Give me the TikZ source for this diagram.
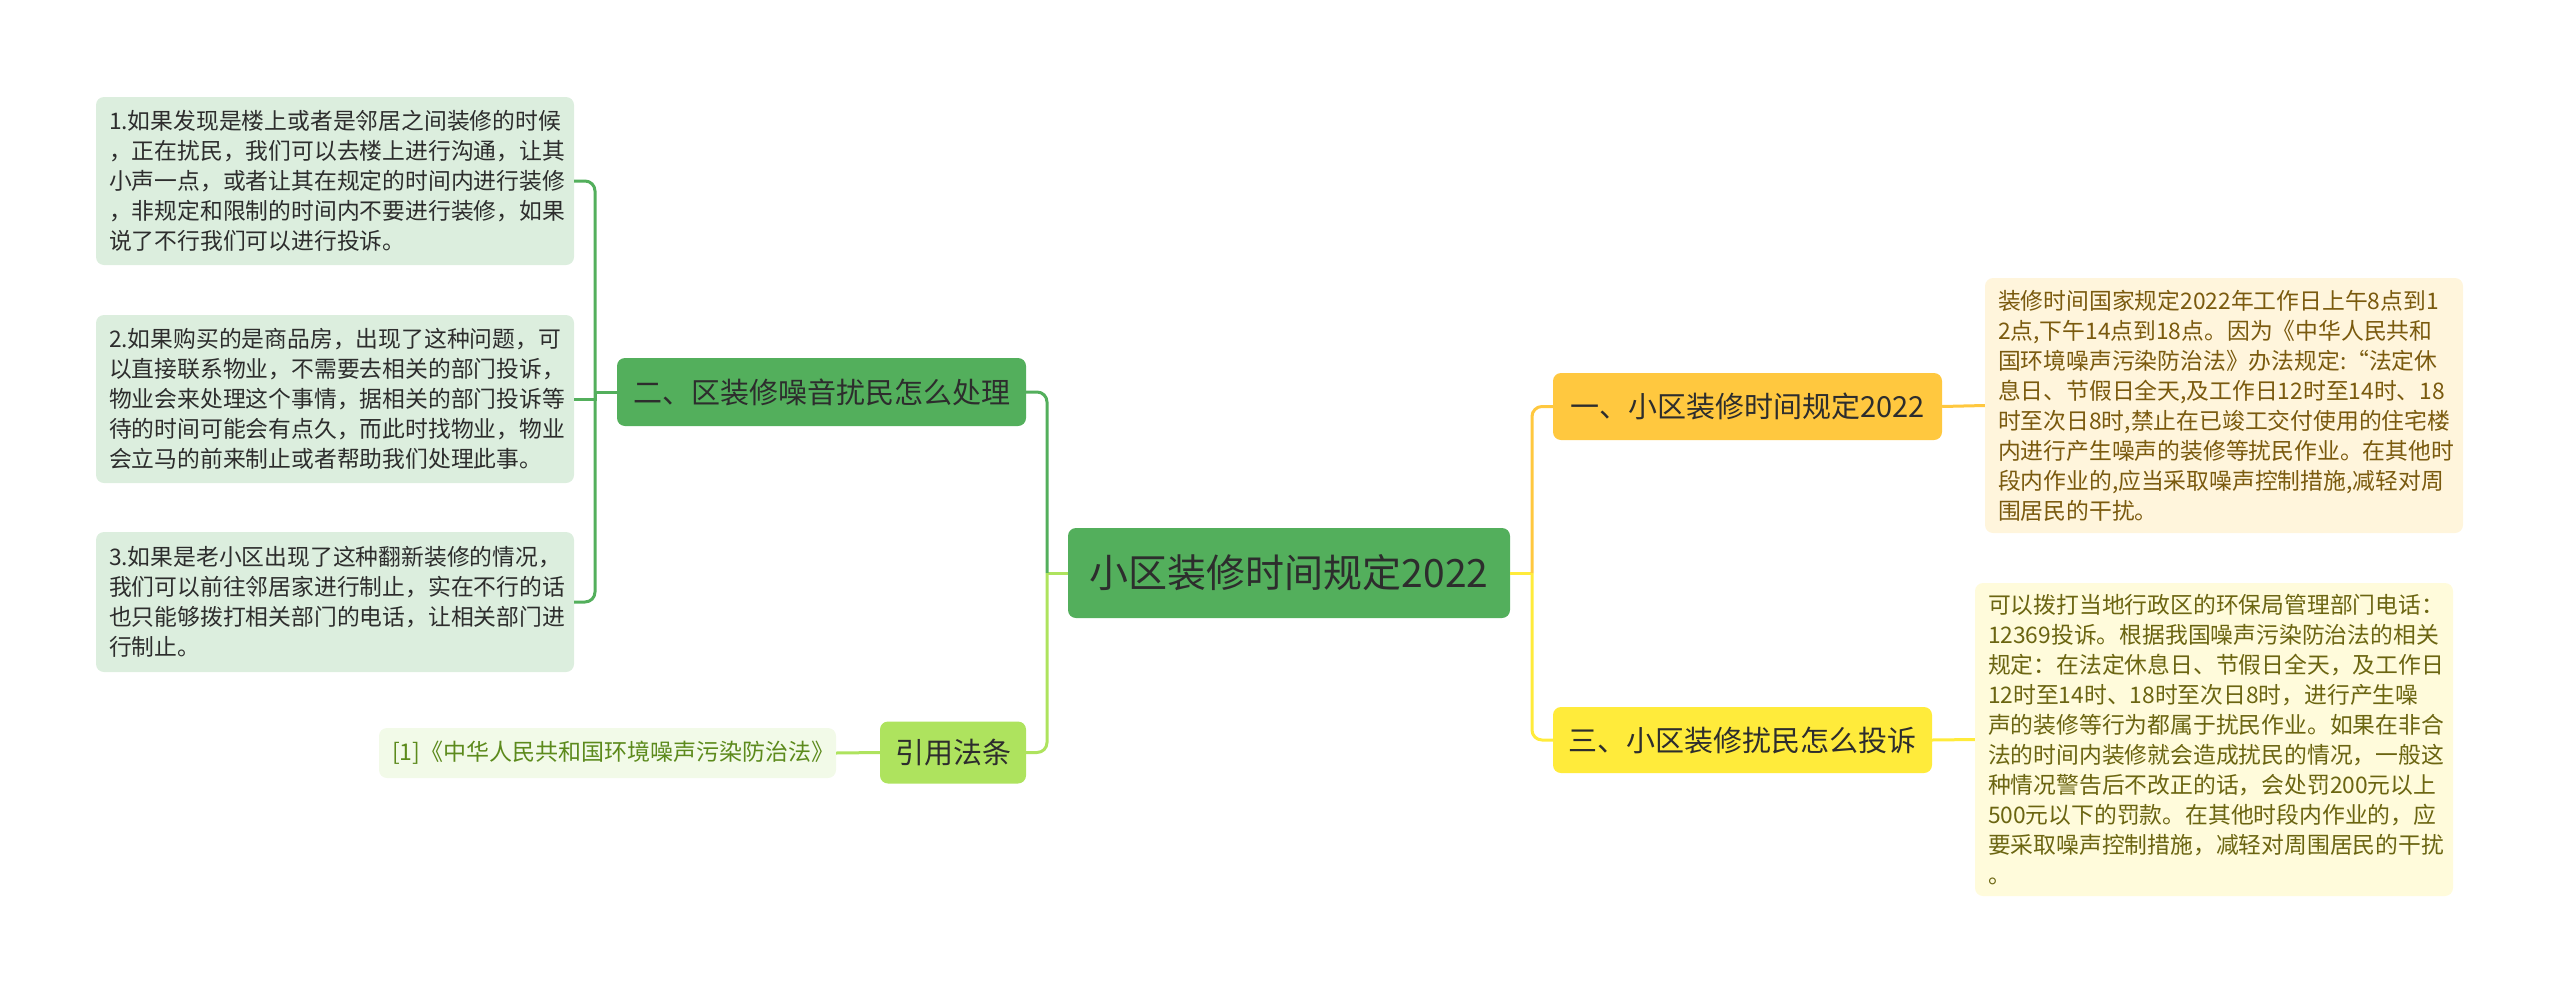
\documentclass[tikz,border=0pt]{standalone}
\usepackage{fontspec}
\setmainfont{Noto Sans CJK SC}
\usepackage{xcolor}
\usetikzlibrary{positioning, calc}
\definecolor{rootgreen}{HTML}{53AF5C}
\definecolor{limegreen}{HTML}{AEE35E}
\definecolor{leafgreen}{HTML}{DCEEDE}
\definecolor{reffill}{HTML}{F2FAE8}
\definecolor{reftext}{HTML}{5C8A1C}
\definecolor{orangebr}{HTML}{FFC83F}
\definecolor{yellowbr}{HTML}{FFEB3B}
\definecolor{creamfill}{HTML}{FFF5DC}
\definecolor{creamtext}{HTML}{7A5A0E}
\definecolor{paleyellow}{HTML}{FFFBDB}
\definecolor{olivetext}{HTML}{6B6511}
\definecolor{darktext}{HTML}{2D2D2D}
\tikzset{box/.style={rounded corners=8pt, inner sep=0pt},
         topic/.style={box, text=darktext, align=center, font=\fontsize{29}{34}\selectfont},
         leaf/.style={box, align=left, inner xsep=13pt, font=\fontsize{22.8}{30}\selectfont},
         link/.style={line width=3pt, rounded corners=10pt}
        }

\begin{document}
\begin{tikzpicture}[x=1pt, y=-1pt]
\useasboundingbox (0,0) rectangle (2560,996);
\node[box, fill=rootgreen, text=darktext, minimum width=442pt, minimum height=90pt, font=\fontsize{39}{44}\selectfont] (root) at (1289,573){小区装修时间规定2022};
\node[topic, fill=rootgreen, minimum width=409pt, minimum height=68pt] (er) at (821.5,392){二、区装修噪音扰民怎么处理};
\node[topic, fill=limegreen, minimum width=146pt, minimum height=62pt] (yinyong) at (953,752.5){引用法条};
\node[topic, fill=orangebr, minimum width=389pt, minimum height=67pt] (yi) at (1747.5,406.5){一、小区装修时间规定2022};
\node[topic, fill=yellowbr, minimum width=379pt, minimum height=66pt] (san) at (1742.5,740){三、小区装修扰民怎么投诉};

\node[leaf, fill=leafgreen, text=darktext, text width=452pt, minimum height=168pt] (way1) at (335,181){1.如果发现是楼上或者是邻居之间装修的时候\\，正在扰民，我们可以去楼上进行沟通，让其\\小声一点，或者让其在规定的时间内进行装修\\，非规定和限制的时间内不要进行装修，如果\\说了不行我们可以进行投诉。};
\node[leaf, fill=leafgreen, text=darktext, text width=452pt, minimum height=168pt] (way2) at (335,399){2.如果购买的是商品房，出现了这种问题，可\\以直接联系物业，不需要去相关的部门投诉，\\物业会来处理这个事情，据相关的部门投诉等\\待的时间可能会有点久，而此时找物业，物业\\会立马的前来制止或者帮助我们处理此事。};
\node[leaf, fill=leafgreen, text=darktext, text width=452pt, minimum height=140pt] (way3) at (335,602){3.如果是老小区出现了这种翻新装修的情况，\\我们可以前往邻居家进行制止，实在不行的话\\也只能够拨打相关部门的电话，让相关部门进\\行制止。};
\node[leaf, fill=reffill, text=reftext, text width=431pt, minimum height=50pt, font=\fontsize{23}{28}\selectfont] (law) at (607.5,753){[1]《中华人民共和国环境噪声污染防治法》};

\node[leaf, fill=creamfill, text=creamtext, text width=452pt, minimum height=255pt] (rule) at (2224,405.5){装修时间国家规定2022年工作日上午8点到1\\2点,下午14点到18点。因为《中华人民共和\\国环境噪声污染防治法》办法规定:“法定休\\息日、节假日全天,及工作日12时至14时、18\\时至次日8时,禁止在已竣工交付使用的住宅楼\\内进行产生噪声的装修等扰民作业。在其他时\\段内作业的,应当采取噪声控制措施,减轻对周\\围居民的干扰。};
\node[leaf, fill=paleyellow, text=olivetext, text width=452pt, minimum height=313pt] (complain) at (2214,739.5){可以拨打当地行政区的环保局管理部门电话：\\12369投诉。根据我国噪声污染防治法的相关\\规定：在法定休息日、节假日全天，及工作日\\12时至14时、18时至次日8时，进行产生噪\\声的装修等行为都属于扰民作业。如果在非合\\法的时间内装修就会造成扰民的情况，一般这\\种情况警告后不改正的话，会处罚200元以上\\500元以下的罚款。在其他时段内作业的，应\\要采取噪声控制措施，减轻对周围居民的干扰\\。};

\coordinate (jleft) at (1047,573);
\coordinate (jright) at (1532,573);
\coordinate (jer) at (595,392);

\draw[link, limegreen] (root.west) -- (jleft);
\draw[link, rootgreen] (jleft) |- (er.east);
\draw[link, limegreen] (jleft) |- (yinyong.east);
\draw[link, yellowbr] (root.east) -- (jright);
\draw[link, orangebr] (jright) |- (yi.west);
\draw[link, yellowbr] (jright) |- (san.west);
\draw[link, orangebr] (yi.east) -- (rule.west);
\draw[link, yellowbr] (san.east) -- (complain.west);
\draw[link, rootgreen] (er.west) -- (jer);
\draw[link, rootgreen] (jer) |- (way1.east);
\draw[link, rootgreen, sharp corners] (jer) |- (way2.east);
\draw[link, rootgreen] (jer) |- (way3.east);
\draw[link, limegreen] (yinyong.west) -- (law.east);
\end{tikzpicture}
\end{document}
